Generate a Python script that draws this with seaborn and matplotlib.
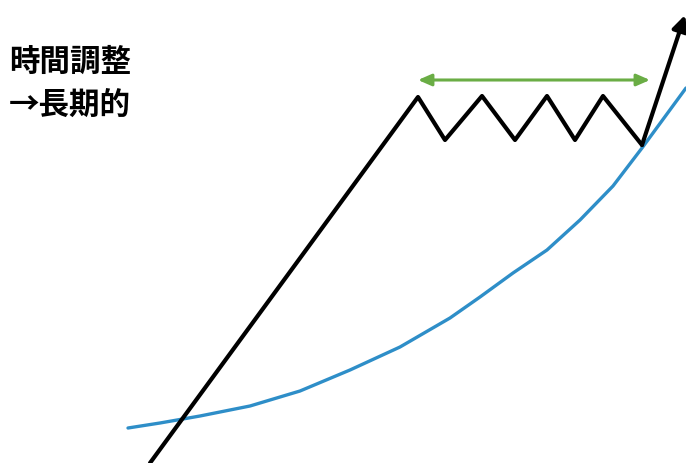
import pandas as pd
import matplotlib.pyplot as plt
import seaborn as sns

# black price path (pixel-like coordinates, y grows downward)
price_x = [150, 418, 445, 482, 515, 547, 575, 603, 642]
price_y = [463, 97, 140, 96, 140, 96, 140, 96, 145]
breakout_end = (685, 15)

# blue long-term curve
trend_x = [128, 160, 200, 250, 300, 350, 400, 450, 480, 513, 547, 580, 613, 642, 686]
trend_y = [428, 423, 416, 406, 391, 370, 347, 318, 297, 273, 250, 220, 186, 148, 88]

# green range arrow
range_x = [418, 650]
range_y = 80

label_lines = ["時間調整", "→長期的"]

sns.set_style("white")
plt.rcParams['font.family'] = ['Noto Sans CJK JP', 'DejaVu Sans']

fig = plt.figure(figsize=(6.86, 4.63), dpi=100)
ax = fig.add_axes([0, 0, 1, 1])

trend = pd.DataFrame({"x": trend_x, "y": trend_y})
price = pd.DataFrame({"x": price_x, "y": price_y})

sns.lineplot(data=trend, x="x", y="y", sort=False, color="#2e8ec8", linewidth=2.4,
             solid_joinstyle="round", ax=ax)
sns.lineplot(data=price, x="x", y="y", sort=False, color="black", linewidth=3, ax=ax)

# breakout arrow
ax.annotate("", xy=breakout_end, xytext=(price_x[-1], price_y[-1]),
            arrowprops=dict(arrowstyle="-|>,head_length=0.9,head_width=0.45",
                            color="black", lw=3, shrinkA=0, shrinkB=0))

# range arrow
ax.annotate("", xy=(range_x[1], range_y), xytext=(range_x[0], range_y),
            arrowprops=dict(arrowstyle="<|-|>,head_length=0.8,head_width=0.35",
                            color="#6aad45", lw=2.2, shrinkA=0, shrinkB=0))

ax.text(9, 62, label_lines[0], fontsize=22, fontweight="bold", color="black",
        va="center", ha="left")
ax.text(9, 106, label_lines[1], fontsize=22, fontweight="bold", color="black",
        va="center", ha="left")

ax.set_xlim(0, 686)
ax.set_ylim(463, 0)
ax.axis("off")

fig.savefig("out.png", dpi=100)
